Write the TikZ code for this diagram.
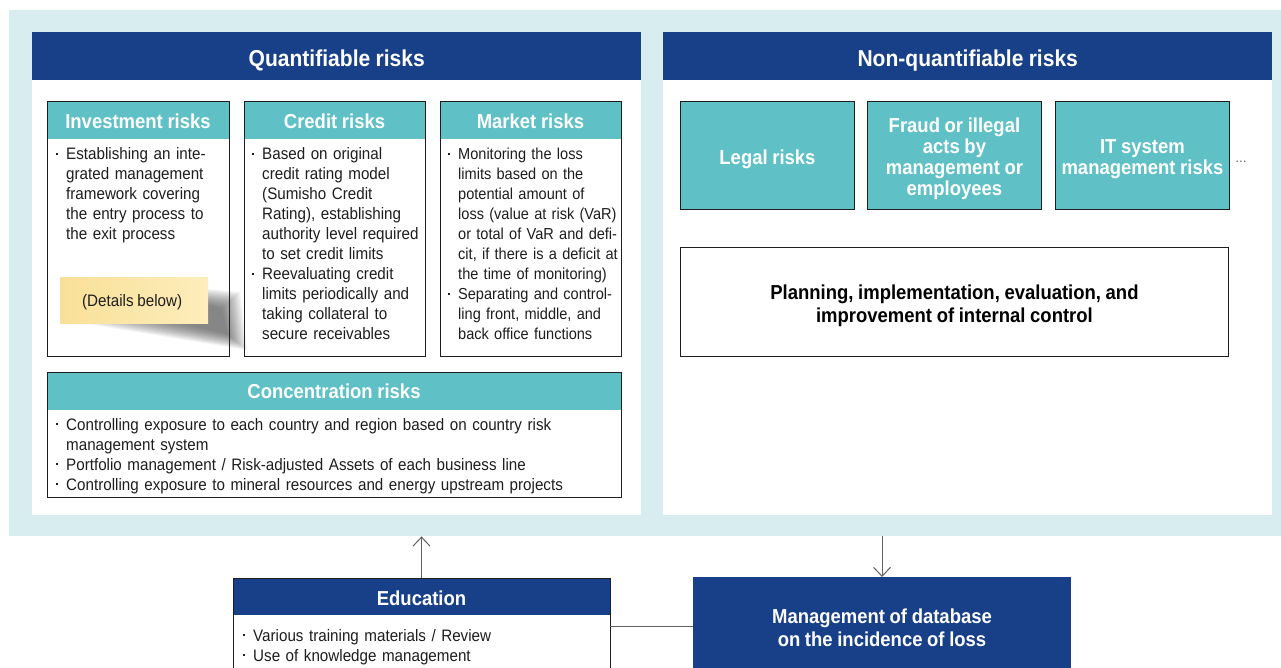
\documentclass[tikz,border=0pt]{standalone}
\usepackage{fontspec}
\setmainfont{Liberation Sans}[FakeStretch=0.915, WordSpace=0.9]
\usetikzlibrary{arrows.meta}

\definecolor{navy}{RGB}{23,64,137}
\definecolor{tealfill}{RGB}{95,192,198}
\definecolor{bandfill}{RGB}{216,237,240}
\definecolor{noteA}{RGB}{249,224,152}
\definecolor{noteB}{RGB}{253,237,188}
\definecolor{inkc}{RGB}{30,30,30}

\newcommand\bodyfont{\fontsize{16.6}{20}\selectfont}
\newcommand\tightfont{\fontsize{15.9}{20}\selectfont}
\newcommand\hdrfont{\fontsize{20.2}{21}\selectfont\bfseries}
\newcommand\bighdrfont{\fontsize{23}{26}\selectfont\bfseries}
% first bullet of a list, every following bullet, and the end of the list
\newcommand\bfirst{\hangindent=10pt\hangafter=1\makebox[10pt][l]{\rule[0.32em]{1.9pt}{1.9pt}}}
\newcommand\bitem{\par\noindent\bfirst}
\newcommand\bdone{\par}

\tikzset{
  band/.style={fill=bandfill, anchor=north west, inner sep=0, minimum width=1272, minimum height=526},
  panel/.style={fill=white, anchor=north west, inner sep=0, minimum width=609, minimum height=483},
  navyhdr/.style={fill=navy, anchor=north west, inner sep=0, minimum width=609, minimum height=48,
                  text height=20pt, text depth=0pt, text=white, font=\bighdrfont},
  riskbox/.style={fill=white, draw=inkc, line width=0.9pt, anchor=north west, inner sep=0,
                  path picture={\fill[tealfill] (path picture bounding box.north west) rectangle
                     ([yshift=-38pt]path picture bounding box.north east);}},
  hdrtext/.style={text=white, font=\hdrfont, inner sep=0, align=center},
  tealbox/.style={fill=tealfill, draw=inkc, line width=0.9pt, anchor=north west, inner sep=0,
                  minimum width=174, minimum height=108},
  plainbox/.style={fill=white, draw=inkc, line width=0.9pt, anchor=north west, inner sep=0},
  bodytext/.style={anchor=base west, inner sep=0, align=left, font=\bodyfont, text=inkc},
  conn/.style={draw=black!62, line width=1pt},
  opentip/.style={-{Straight Barb[length=9pt,width=17pt,line width=1pt]}},
  shade/.style={fill=black!80, opacity=0.06},
}

\begin{document}
\begin{tikzpicture}[x=1pt,y=-1pt]
\clip (0,0) rectangle (1281,668);
\fill[white] (0,0) rectangle (1281,668);

% background band and the two panels
\node[band] (bg) at (9,10) {};
\node[panel] (qpanel) at (32,32) {};
\node[panel] (npanel) at (663,32) {};
\node[navyhdr] (qhead) at (32,32) {Quantifiable risks};
\node[navyhdr] (nhead) at (663,32) {Non-quantifiable risks};

% quantifiable risk categories
\node[riskbox, minimum width=182, minimum height=255] (inv) at (47,101) {};
\node[riskbox, minimum width=181, minimum height=255] (cred) at (244,101) {};
\node[riskbox, minimum width=181, minimum height=255] (mkt) at (440,101) {};
\node[riskbox, minimum width=574, minimum height=125] (conc) at (47,372) {};

\node[hdrtext] (invh) at (138,121) {Investment risks};
\node[hdrtext] (credh) at (334.5,121) {Credit risks};
\node[hdrtext] (mkth) at (530.5,121) {Market risks};
\node[hdrtext] (conch) at (334,391) {Concentration risks};

\node[bodytext, text width=178] (invt) at (56,160) {%
\bfirst Establishing an inte-\newline grated management\newline framework covering\newline the entry process to\newline the exit process\bdone};

\node[bodytext, text width=178] (credt) at (252,160) {%
\bfirst Based on original\newline credit rating model\newline (Sumisho Credit\newline Rating), establishing\newline authority level required\newline to set credit limits
\bitem Reevaluating credit\newline limits periodically and\newline taking collateral to\newline secure receivables\bdone};

\node[bodytext, text width=178, font=\tightfont] (mktt) at (448,160) {%
\bfirst Monitoring the loss\newline limits based on the\newline potential amount of\newline loss (value at risk (VaR)\newline or total of VaR and defi-\newline cit, if there is a deficit at\newline the time of monitoring)
\bitem Separating and control-\newline ling front, middle, and\newline back office functions\bdone};

\node[bodytext, text width=565] (conct) at (56,430) {%
\bfirst Controlling exposure to each country and region based on country risk\newline management system
\bitem Portfolio management / Risk-adjusted Assets of each business line
\bitem Controlling exposure to mineral resources and energy upstream projects\bdone};

% sticky note with its soft shadow
\foreach \t in {0,0.07,...,0.92}{
  \fill[shade] (206,{289+17*\t}) -- ({240-20*\t},{292+18*\t}) -- ({247-21*\t},{350-17*\t})
               -- ({82+105*\t},323) -- cycle;
}
\node[anchor=north west, inner sep=0, minimum width=148, minimum height=46,
      shading=axis, left color=noteA, right color=noteB] (note) at (60,277) {};
\node[font=\bodyfont, text=inkc, inner sep=0] (notet) at ([xshift=-2pt,yshift=-2pt]note.center) {(Details below)};

% non-quantifiable risk categories
\node[tealbox] (legal) at (680,101) {};
\node[tealbox] (fraud) at (867,101) {};
\node[tealbox] (itsys) at (1055,101) {};
\node[hdrtext] (legalt) at ([yshift=-3.5pt]legal.center) {Legal risks};
\node[hdrtext] (fraudt) at ([yshift=-3.5pt]fraud.center) {Fraud or illegal\\acts by\\management or\\employees};
\node[hdrtext] (itsyst) at ([yshift=-3.5pt]itsys.center) {IT system\\management risks};
\node[anchor=west, inner sep=0, font=\fontsize{13}{14}\selectfont, text=black!70] (more) at (1235,162) {…};

\node[plainbox, minimum width=548, minimum height=109] (ctrl) at (680,247) {};
\node[hdrtext, text=black] (ctrlt) at ([yshift=-3.5pt]ctrl.center)
      {Planning, implementation, evaluation, and\\[2pt]improvement of internal control};

% lower row
\node[plainbox, minimum width=377, minimum height=130,
      path picture={\fill[navy] (path picture bounding box.north west) rectangle
                     ([yshift=-37pt]path picture bounding box.north east);}] (edu) at (233,578) {};
\node[hdrtext] (eduh) at (421.5,598) {Education};
\node[bodytext, text width=360] (edut) at (243,641) {%
\bfirst Various training materials / Review
\bitem Use of knowledge management\bdone};

\node[fill=navy, anchor=north west, inner sep=0, minimum width=378, minimum height=130] (mgmt) at (693,577) {};
\node[hdrtext] (mgmtt) at (882,627.5) {Management of database\\[2pt]on the incidence of loss};

% connectors
\coordinate (eduout) at (610,626);
\draw[conn, opentip] (edu.north -| eduh) -- (eduh |- bg.south);
\draw[conn, opentip] (bg.south -| mgmtt) -- (mgmt.north -| mgmtt);
\draw[conn] (eduout) -- (eduout -| mgmt.west);
\end{tikzpicture}
\end{document}
